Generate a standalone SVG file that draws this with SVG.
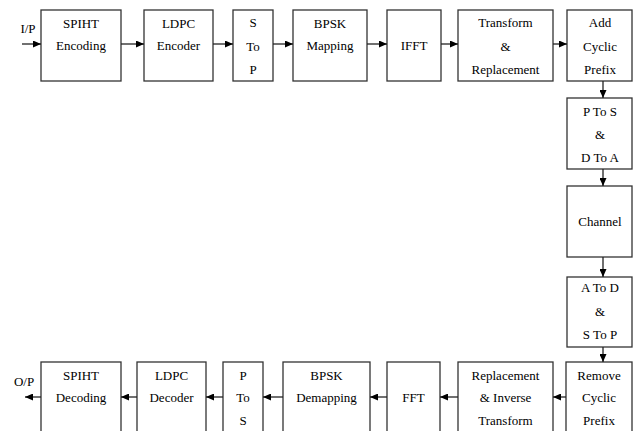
<svg xmlns="http://www.w3.org/2000/svg" width="633" height="431" viewBox="0 0 633 431">
<defs>
<marker id="ah" markerWidth="8" markerHeight="7" refX="8" refY="3.5" orient="auto" markerUnits="userSpaceOnUse">
<path d="M0,0 L8,3.5 L0,7 Z" fill="#000"/>
</marker>
</defs>
<style>
rect{fill:#fff;stroke:#333;stroke-width:1.3}
text{font-family:"Liberation Serif","Times New Roman",serif;font-size:13px;fill:#000;text-anchor:middle}
.c line{stroke:#222;stroke-width:1.3;marker-end:url(#ah)}
</style>
<rect x="0" y="0" width="633" height="431" style="stroke:none;fill:#fff"/>
<text x="28" y="33">I/P</text>
<text x="24" y="386">O/P</text>
<g id="n1"><rect x="41" y="10" width="80" height="71"/><text x="81" y="28">SPIHT</text><text x="81" y="50">Encoding</text></g>
<g id="n2"><rect x="144" y="10" width="69" height="71"/><text x="178.5" y="28">LDPC</text><text x="178.5" y="50">Encoder</text></g>
<g id="n3"><rect x="233" y="10" width="40" height="71"/><text x="253" y="27">S</text><text x="253" y="51">To</text><text x="253" y="74">P</text></g>
<g id="n4"><rect x="293" y="10" width="74" height="71"/><text x="330" y="28">BPSK</text><text x="330" y="50">Mapping</text></g>
<g id="n5"><rect x="387" y="10" width="54" height="71"/><text x="414" y="50">IFFT</text></g>
<g id="n6"><rect x="458" y="10" width="95" height="71"/><text x="505.5" y="27">Transform</text><text x="505.5" y="51">&amp;</text><text x="505.5" y="74">Replacement</text></g>
<g id="n7"><rect x="567" y="10" width="65" height="71"/><text x="600" y="27">Add</text><text x="600" y="51">Cyclic</text><text x="600" y="74">Prefix</text></g>
<g id="n8"><rect x="567" y="98" width="65" height="71"/><text x="600" y="116">P To S</text><text x="600" y="139">&amp;</text><text x="600" y="162">D To A</text></g>
<g id="n9"><rect x="567" y="186" width="65" height="71"/><text x="600" y="226">Channel</text></g>
<g id="n10"><rect x="567" y="277" width="65" height="70"/><text x="600" y="292">A To D</text><text x="600" y="316">&amp;</text><text x="600" y="339">S To P</text></g>
<g id="n11"><rect x="566" y="362" width="66" height="75"/><text x="599" y="380">Remove</text><text x="599" y="402">Cyclic</text><text x="599" y="425">Prefix</text></g>
<g id="n12"><rect x="458" y="362" width="95" height="75"/><text x="505.5" y="380">Replacement</text><text x="505.5" y="402">&amp; Inverse</text><text x="505.5" y="425">Transform</text></g>
<g id="n13"><rect x="387" y="362" width="53" height="75"/><text x="413.5" y="402">FFT</text></g>
<g id="n14"><rect x="283" y="362" width="87" height="75"/><text x="326.5" y="380">BPSK</text><text x="326.5" y="402">Demapping</text></g>
<g id="n15"><rect x="223" y="362" width="40" height="75"/><text x="243" y="380">P</text><text x="243" y="402">To</text><text x="243" y="425">S</text></g>
<g id="n16"><rect x="137" y="362" width="69" height="75"/><text x="171.5" y="380">LDPC</text><text x="171.5" y="402">Decoder</text></g>
<g id="n17"><rect x="41" y="362" width="80" height="75"/><text x="81" y="380">SPIHT</text><text x="81" y="402">Decoding</text></g>
<g class="c" id="connectors">
<line x1="22" y1="44" x2="41" y2="44"/>
<line x1="121" y1="44" x2="144" y2="44"/>
<line x1="213" y1="44" x2="233" y2="44"/>
<line x1="273" y1="44" x2="293" y2="44"/>
<line x1="367" y1="44" x2="387" y2="44"/>
<line x1="441" y1="44" x2="458" y2="44"/>
<line x1="553" y1="44" x2="567" y2="44"/>
<line x1="603" y1="81" x2="603" y2="98"/>
<line x1="603" y1="169" x2="603" y2="186"/>
<line x1="603" y1="257" x2="603" y2="277"/>
<line x1="603" y1="347" x2="603" y2="362"/>
<line x1="566" y1="397" x2="553" y2="397"/>
<line x1="458" y1="397" x2="440" y2="397"/>
<line x1="387" y1="397" x2="370" y2="397"/>
<line x1="283" y1="397" x2="263" y2="397"/>
<line x1="223" y1="397" x2="206" y2="397"/>
<line x1="137" y1="397" x2="121" y2="397"/>
<line x1="41" y1="397" x2="25" y2="397"/>
</g>
</svg>
